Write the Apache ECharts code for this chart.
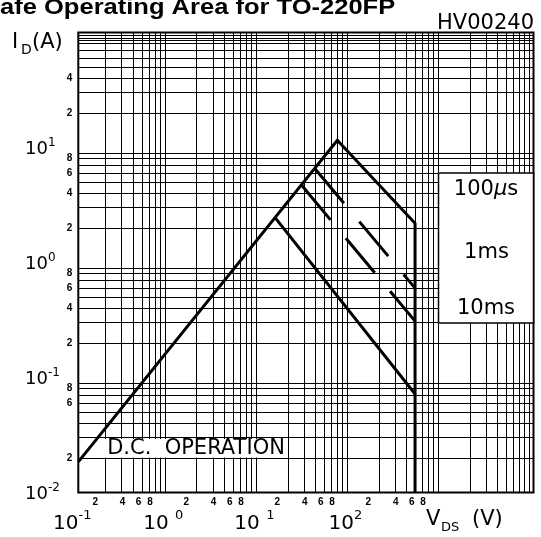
<!DOCTYPE html>
<html>
<head>
<meta charset="utf-8">
<script src="https://cdn.jsdelivr.net/npm/echarts@6/dist/echarts.min.js"></script>
<style>html,body{margin:0;padding:0;background:#fff}#c{width:541px;height:537px}</style>
</head>
<body>
<div id="c"></div>
<script>
// ---------- data ----------
const xRange = [0.1, 10000];          // V_DS (V)
const yRange = [0.01, 100];           // I_D (A)
const gridMantissas = [2, 3, 4, 5, 6, 7, 8, 9];
const xDecades = [0.1, 1, 10, 100, 1000];
const yDecades = [0.01, 0.1, 1, 10];
const yExtraGrid = [85, 95];          // extra rulings near the top edge

const xMajorTicks = [0.1, 1, 10, 100];
const xMajorExp = ['-1', '0', '1', '2'];
const xMinorTicks = [0.2, 0.4, 0.6, 0.8, 2, 4, 6, 8, 20, 40, 60, 80, 200, 400, 600, 800];
const xMinorLabels = ['2', '4', '6', '8', '2', '4', '6', '8', '2', '4', '6', '8', '2', '4', '6', '8'];
const yMajorTicks = [10, 1, 0.1, 0.01];
const yMajorExp = ['1', '0', '-1', '-2'];
const yMinorTicks = [40, 20, 8, 6, 4, 2, 0.8, 0.6, 0.4, 0.2, 0.08, 0.06, 0.02];
const yMinorLabels = ['4', '2', '8', '6', '4', '2', '8', '6', '4', '2', '8', '6', '2'];

// SOA boundary: R_DS(on) limit -> peak -> power limit -> V_DSS limit
const envelopeV = [0.1, 70, 500, 500];
const envelopeI = [0.0185, 11.6, 2.2, 0.01];
// D.C. operation boundary
const dcV = [14.5, 500];
const dcI = [2.46, 0.072];
// pulse boundaries (dashed)
const pulseAV = [39.8, 500];
const pulseAI = [6.55, 0.6];
const pulseBV = [28.4, 500];
const pulseBI = [4.7, 0.31];

// ---------- helpers ----------
const zip = (a, b) => a.map((v, i) => [v, b[i]]);
const nearestIdx = (arr, v) => {
  let best = 0, bd = Infinity;
  arr.forEach((a, i) => { const d = Math.abs(Math.log10(a) - Math.log10(v)); if (d < bd) { bd = d; best = i; } });
  return best;
};
const gridX = [];
xDecades.forEach(d => gridMantissas.forEach(m => gridX.push({ xAxis: m * d })));
const gridY = [];
yDecades.forEach(d => gridMantissas.forEach(m => gridY.push({ yAxis: m * d })));
yExtraGrid.forEach(v => gridY.push({ yAxis: v }));

const FONT = '"DejaVu Sans", sans-serif';
const BOLD = '"Liberation Sans", Arial, sans-serif';

const baseLog = {
  type: 'log', logBase: 10,
  axisLine: { show: false }, axisTick: { show: false },
  splitLine: { show: false }, minorSplitLine: { show: false }
};

const txt = (text, x, y, font, align) => ({
  type: 'text', z: 100, x: x, y: y,
  style: { text: text, font: font, fill: '#000', align: align, verticalAlign: 'middle', textAlign: align, textVerticalAlign: 'middle' }
});

const option = {
  animation: false,
  backgroundColor: '#fff',
  grid: {
    left: 78.3, right: 7.5, top: 32.6, bottom: 44.4,
    show: true, borderColor: '#000', borderWidth: 2, backgroundColor: 'transparent',
    outerBoundsMode: 'none'
  },
  xAxis: [
    Object.assign({}, baseLog, {
      min: xRange[0], max: xRange[1], position: 'bottom',
      axisLabel: {
        customValues: xMajorTicks, margin: 17, padding: [0, 12, 0, 0],
        formatter: v => {
          const i = nearestIdx(xMajorTicks, v);
          const sp = (xMajorExp[i] === '0' || xMajorExp[i] === '1') ? ' ' : '';
          return '{b|10' + sp + '}{s|' + xMajorExp[i] + '}';
        },
        rich: {
          b: { fontSize: 20, fontFamily: FONT, color: '#000', verticalAlign: 'bottom', lineHeight: 24 },
          s: { fontSize: 13, fontFamily: FONT, color: '#000', verticalAlign: 'top', lineHeight: 14 }
        }
      }
    }),
    Object.assign({}, baseLog, {
      min: xRange[0], max: xRange[1], position: 'bottom',
      axisLabel: {
        customValues: xMinorTicks, margin: 5, padding: [0, 21, 0, 0],
        fontSize: 10, fontWeight: 'bold', fontFamily: BOLD, color: '#000',
        formatter: v => xMinorLabels[nearestIdx(xMinorTicks, v)]
      }
    })
  ],
  yAxis: [
    Object.assign({}, baseLog, {
      min: yRange[0], max: yRange[1], position: 'left',
      axisLabel: {
        customValues: yMajorTicks, margin: 53.3, align: 'left',
        formatter: v => '{b|10}{s|' + yMajorExp[nearestIdx(yMajorTicks, v)] + '}',
        rich: {
          b: { fontSize: 18, fontFamily: FONT, color: '#000', verticalAlign: 'bottom', lineHeight: 22 },
          s: { fontSize: 12, fontFamily: FONT, color: '#000', verticalAlign: 'top', lineHeight: 13 }
        }
      }
    }),
    Object.assign({}, baseLog, {
      min: yRange[0], max: yRange[1], position: 'left',
      axisLabel: {
        customValues: yMinorTicks, margin: 6,
        fontSize: 10, fontWeight: 'bold', fontFamily: BOLD, color: '#000',
        formatter: v => yMinorLabels[nearestIdx(yMinorTicks, v)]
      }
    })
  ],
  series: [
    {
      name: 'SOA', type: 'line', xAxisIndex: 0, yAxisIndex: 0, z: 3,
      data: zip(envelopeV, envelopeI), symbol: 'none', showSymbol: false,
      lineStyle: { color: '#000', width: 3, join: 'miter' },
      markLine: {
        silent: true, z: 1, symbol: ['none', 'none'], label: { show: false },
        lineStyle: { color: '#000', width: 1, type: 'solid' },
        emphasis: { disabled: true },
        data: gridX.concat(gridY)
      }
    },
    {
      name: 'D.C.', type: 'line', xAxisIndex: 0, yAxisIndex: 0, z: 3,
      data: zip(dcV, dcI), symbol: 'none', showSymbol: false,
      lineStyle: { color: '#000', width: 3 }
    },
    {
      name: 'pulseA', type: 'line', xAxisIndex: 0, yAxisIndex: 0, z: 3,
      data: zip(pulseAV, pulseAI), symbol: 'none', showSymbol: false,
      lineStyle: { color: '#000', width: 3, type: [45, 24], cap: 'butt' }
    },
    {
      name: 'pulseB', type: 'line', xAxisIndex: 0, yAxisIndex: 0, z: 3,
      data: zip(pulseBV, pulseBI), symbol: 'none', showSymbol: false,
      lineStyle: { color: '#000', width: 3, type: [45, 24], cap: 'butt' }
    }
  ],
  graphic: [
    // title (cropped at the left like the reference)
    { type: 'text', z: 100, x: -17, y: 8, scaleX: 1.16,
      style: { text: 'Safe Operating Area for TO-220FP', font: 'bold 22px "Liberation Sans", Arial, sans-serif', fill: '#000', align: 'left', verticalAlign: 'middle', textAlign: 'left', textVerticalAlign: 'middle' } },
    txt('HV00240', 534, 24, '21px ' + FONT, 'right'),
    // y axis title I_D(A)
    txt('I', 12, 43, '21px ' + FONT, 'left'),
    txt('D', 21, 50, '14px ' + FONT, 'left'),
    txt('(A)', 32, 43, '21px ' + FONT, 'left'),
    // x axis title V_DS (V)
    txt('V', 426, 520, '21px ' + FONT, 'left'),
    txt('DS', 441, 528, '13px ' + FONT, 'left'),
    txt('(V)', 472, 520, '21px ' + FONT, 'left'),
    // pulse-width legend box
    { type: 'rect', z: 90, shape: { x: 438.5, y: 173, width: 95, height: 150 },
      style: { fill: '#fff', stroke: '#000', lineWidth: 1.5 } },
    { type: 'text', z: 100, x: 486, y: 190,
      style: { text: '{n|100}{m|µ}{n|s}', rich: { n: { font: '21px ' + FONT, fill: '#000' }, m: { font: 'italic 21px ' + FONT, fill: '#000' } },
               fill: '#000', align: 'center', verticalAlign: 'middle', textAlign: 'center', textVerticalAlign: 'middle' } },
    txt('1ms', 486.5, 253, '21px ' + FONT, 'center'),
    txt('10ms', 486, 309, '21px ' + FONT, 'center'),
    // D.C. OPERATION label with white backing
    { type: 'rect', z: 90, shape: { x: 103, y: 439, width: 184, height: 18.5 },
      style: { fill: '#fff', stroke: null } },
    txt('D.C.  OPERATION', 196, 449, '21px ' + FONT, 'center')
  ]
};

const chart = echarts.init(document.getElementById('c'), null, { renderer: 'canvas', width: 541, height: 537 });
chart.setOption(option);
</script>
</body>
</html>
